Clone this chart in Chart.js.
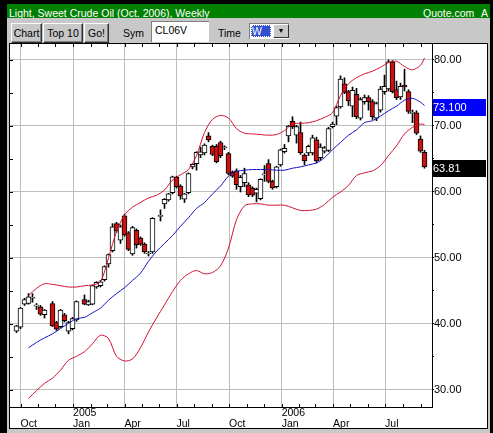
<!DOCTYPE html>
<html>
<head>
<meta charset="utf-8">
<script src="https://cdn.jsdelivr.net/npm/chart.js@4.4.0/dist/chart.umd.min.js"></script>
<style>
  body { margin:0; width:493px; height:433px; background:#000; position:relative; overflow:hidden;
         font-family:"Liberation Sans", Arial, sans-serif; font-size:10.5px; }
  #titlebar { position:absolute; left:7px; top:4px; width:483px; height:14px; background:#008000; color:#fff; }
  #titlebar span { position:absolute; top:3px; line-height:12px; white-space:nowrap; }
  #panel { position:absolute; left:7px; top:18px; width:483px; height:415px; background:#c8c8c8; }
  .btn { position:absolute; top:5px; height:20px; box-sizing:border-box; background:#c8c8c8;
         border-top:1px solid #fff; border-left:1px solid #fff; border-right:1px solid #303030; border-bottom:1px solid #303030;
         box-shadow:inset -1px -1px #808080; text-align:center; line-height:19px; color:#000; }
  .lbl { position:absolute; top:8px; line-height:14px; color:#000; }
  #sym { position:absolute; left:144px; top:3px; width:58px; height:21px; box-sizing:border-box; background:#fff;
         border-top:1px solid #808080; border-left:1px solid #808080; padding:2px 0 0 3px; line-height:12px; }
  #time { position:absolute; left:242px; top:5px; width:40px; height:16px; box-sizing:border-box; background:#fff;
          border-top:1px solid #808080; border-left:1px solid #808080; }
  #time .sel { position:absolute; left:1px; top:1px; width:19px; height:12px; background:#3050d0; color:#fff;
               line-height:12px; padding-left:1px; outline:1px dotted #fff; outline-offset:-1px; }
  #time .arr { position:absolute; right:0; top:0; width:16px; height:14px; box-sizing:border-box; background:#c8c8c8;
               border-top:1px solid #fff; border-left:1px solid #fff; border-right:1px solid #303030; border-bottom:1px solid #303030;
               font-size:7px; line-height:12px; text-align:center; }
  #frame { position:absolute; left:9px; top:43px; width:479px; height:386px; box-sizing:border-box;
           border:1px solid #000; background:#fff; }
  #frame canvas { position:absolute; left:0; top:0; }
</style>
</head>
<body>
<div id="titlebar">
  <span style="left:2px">Light, Sweet Crude Oil (Oct. 2006), Weekly</span>
  <span style="left:416px">Quote.com</span>
  <span style="left:474px">A</span>
</div>
<div id="panel">
  <div class="btn" style="left:4px;width:31px">Chart</div>
  <div class="btn" style="left:36px;width:40px">Top 10</div>
  <div class="btn" style="left:77px;width:25px">Go!</div>
  <div class="lbl" style="left:116px">Sym</div>
  <div id="sym">CL06V</div>
  <div class="lbl" style="left:211px">Time</div>
  <div id="time"><div class="sel">W</div><div class="arr">&#9660;</div></div>
</div>
<div id="frame"><canvas id="chart" width="477" height="384"></canvas></div>

<script>
// first weekly bar (week ending Friday 2004-09-24), one bar per week
var firstWeek = Date.UTC(2004, 8, 24);

var opens = [38.9, 39.5, 43.0, 43.1, 43.9, 42.7, 42.6, 41.4, null, 43.1,
  40.2, 39.6, 41.4, 38.9, 39.3, 40.6, null, 43.7, 42.9, 43.0,
  45.6, 45.8, 46.7, 49.1, 51.1, 55.2, 52.7, 56.4, 53.8, 50.6,
  54.2, 53.0, 52.1, 50.6, 50.9, null, 56.3, 58.2, 58.8, 59.9,
  62.2, 60.9, 58.9, 59.9, 63.8, 64.3, 65.6, 65.9, 68.5, 66.9,
  66.9, 67.5, 66.7, 65.8, 63.0, 63.2, 60.8, 61.4, 61.1, 60.6,
  59.8, 59.0, 62.6, 64.3, 61.6, 60.8, 64.1, 66.1, 68.5, 70.7,
  68.6, 69.0, 65.6, 65.9, 65.9, 67.9, 65.2, 66.2, 66.3, 69.9,
  71.5, 72.9, 76.4, 75.2, 73.0, 74.8, 71.2, 73.7, 74.3, 73.7,
  71.2, 72.4, 75.2, 75.6, 79.7, 75.5, 74.4, 76.2, 75.2, 71.9,
  72.0, 68.0, 66.0];
var highs = [39.8, 42.5, 43.9, 44.6, 44.6, 43.1, 42.8, 42.2, null, 43.4,
  40.4, 42.2, 41.6, 40.4, 41.0, 43.5, null, 44.4, 43.6, 45.9,
  46.4, 46.6, 48.8, 50.6, 55.2, 55.4, 55.0, 56.6, 54.0, 54.8,
  54.4, 53.2, 52.3, 51.0, 56.1, null, 57.3, 59.0, 59.8, 62.4,
  62.4, 61.1, 59.8, 62.9, 64.3, 66.1, 66.8, 67.3, 69.0, 67.1,
  67.2, 67.7, 67.0, 66.0, 63.2, 63.5, 62.5, 63.6, 61.4, 60.8,
  60.6, 62.0, 64.0, 64.9, 61.8, 63.9, 66.5, 67.2, 70.1, 71.4,
  70.1, 70.6, 65.8, 67.1, 68.6, 68.3, 67.3, 66.9, 69.8, 70.6,
  73.0, 77.6, 77.3, 75.4, 75.9, 75.7, 74.3, 74.7, 74.6, 74.0,
  73.6, 76.0, 77.7, 80.0, 79.9, 76.8, 76.5, 78.6, 75.5, 72.4,
  72.3, 68.5, 66.3];
var lows = [38.7, 39.3, 42.8, 43.0, 43.3, 42.2, 41.3, 40.9, null, 39.6,
  39.0, 39.4, 40.3, 38.5, 39.1, 40.4, null, 42.9, 42.8, 42.9,
  45.4, 45.6, 46.5, 48.6, 50.9, 53.9, 52.2, 53.3, 51.1, 50.4,
  51.5, 51.9, 50.7, 50.3, 50.7, null, 55.6, 57.5, 58.6, 59.7,
  60.6, 58.9, 58.4, 59.7, 63.5, 63.3, 65.2, 65.6, 67.6, 65.5,
  64.4, 65.2, 66.4, 62.6, 62.2, 60.4, 60.0, 60.8, 59.3, 59.3,
  58.5, 58.8, 61.6, 61.4, 60.4, 60.6, 63.9, 65.9, 67.6, 69.6,
  67.4, 65.7, 64.1, 65.5, 65.6, 64.4, 64.8, 65.9, 66.1, 69.7,
  70.2, 72.7, 74.9, 73.1, 71.4, 71.1, 70.9, 73.3, 72.4, 71.0,
  70.8, 72.1, 74.8, 75.3, 75.0, 74.0, 74.0, 75.3, 71.9, 70.5,
  68.7, 66.0, 63.6];
var closes = [39.7, 42.4, 43.7, 44.1, 43.9, 42.7, 41.5, 42.1, null, 39.7,
  39.2, 42.1, 40.5, 40.2, 40.8, 43.4, null, 43.0, 43.4, 45.8,
  46.3, 46.4, 48.7, 50.5, 54.7, 54.1, 54.7, 53.5, 51.3, 54.6,
  52.0, 52.1, 50.9, 50.6, 56.0, null, 56.3, 58.9, 59.7, 62.3,
  60.8, 59.4, 59.7, 62.8, 64.2, 66.0, 66.1, 67.1, 67.9, 65.7,
  64.6, 65.5, 66.7, 62.8, 62.4, 61.1, 62.2, 62.8, 59.6, 59.5,
  60.4, 61.9, 62.6, 61.6, 60.6, 63.8, 66.4, 66.6, 70.0, 69.9,
  69.9, 65.9, 64.7, 66.9, 68.2, 64.7, 66.8, 66.7, 69.6, 70.3,
  72.8, 77.1, 75.1, 73.8, 75.4, 71.4, 74.0, 74.3, 73.7, 71.4,
  73.4, 75.6, 76.0, 79.7, 75.2, 74.3, 76.0, 75.9, 72.2, 71.9,
  68.9, 66.2, 63.81];

// Bollinger band (20 week), read every second week
var bandWeeks = [3, 5, 7, 9, 11, 13, 15, 17, 19, 21, 23, 25, 27, 29, 31, 33, 35, 37, 39, 41,
  43, 45, 47, 49, 51, 53, 55, 57, 59, 61, 63, 65, 67, 69, 71, 73, 75, 77, 79, 81,
  83, 85, 87, 89, 91, 93, 95, 97, 99, 101, 102];
var upperBand = [44.3, 45.4, 46.1, 46.0, 45.8, 45.6, 45.6, 45.8, 45.9, 46.4,
  50.0, 54.0, 56.5, 57.7, 58.4, 59.1, 59.5, 60.3, 61.8, 62.6,
  63.4, 65.5, 69.0, 71.0, 71.6, 71.2, 69.6, 68.9, 68.8, 68.7,
  68.6, 68.7, 69.3, 70.3, 70.4, 70.5, 70.8, 71.3, 72.0, 74.6,
  76.4, 77.3, 77.9, 78.3, 78.9, 79.6, 79.8, 79.0, 78.5, 79.2, 80.3];
var middleBand = [36.4, 37.2, 37.9, 38.5, 39.3, 40.1, 40.8, 41.0, 41.7, 42.4,
  43.6, 44.6, 45.5, 46.6, 47.7, 49.5, 51.0, 52.2, 53.4, 54.8,
  56.1, 57.5, 58.4, 59.7, 60.9, 62.4, 63.1, 63.3, 63.4, 63.4,
  63.4, 63.3, 63.3, 63.6, 63.8, 64.1, 64.4, 65.2, 66.4, 67.5,
  68.6, 69.4, 70.5, 70.8, 71.5, 72.3, 73.0, 73.9, 74.2, 73.6, 73.1];
var lowerBand = [28.7, 29.9, 31.0, 31.8, 33.0, 34.5, 35.1, 35.8, 37.0, 38.3,
  37.8, 35.1, 34.4, 34.7, 36.4, 38.8, 40.9, 42.9, 44.9, 46.6,
  47.6, 48.1, 47.6, 47.8, 48.8, 51.5, 55.8, 57.9, 58.2, 58.2,
  58.0, 58.0, 58.0, 57.6, 57.2, 57.2, 57.4, 58.1, 59.2, 60.0,
  61.0, 62.5, 62.9, 63.2, 64.0, 65.5, 67.0, 68.8, 69.8, 70.3, 70.2];

var lastMiddle = 73.100;
var lastClose = 63.81;

var priceTicks = [30, 35, 40, 45, 50, 55, 60, 65, 70, 75, 80];
var months = [[2004, 9], [2004, 10], [2004, 11], [2005, 0], [2005, 1], [2005, 2], [2005, 3], [2005, 4],
  [2005, 5], [2005, 6], [2005, 7], [2005, 8], [2005, 9], [2005, 10], [2005, 11], [2006, 0], [2006, 1],
  [2006, 2], [2006, 3], [2006, 4], [2006, 5], [2006, 6], [2006, 7], [2006, 8]];
var monthNames = {0: 'Jan', 3: 'Apr', 6: 'Jul', 9: 'Oct'};

var weekMs = 7 * 24 * 3600 * 1000;
var monthPos = months.map(function(m) { return (Date.UTC(m[0], m[1], 1) - firstWeek) / weekMs; });

function monthLabel(k) {
  var m = months[k];
  if (!(m[1] in monthNames)) return '';
  return [m[1] === 0 ? String(m[0]) : '', monthNames[m[1]]];
}
function isQuarter(k) { return months[k][1] % 3 === 0; }

var wickData = [], bodyData = [];
opens.forEach(function(o, i) {
  if (o === null) return;
  wickData.push({x: i, y: [lows[i], highs[i]]});
  bodyData.push({x: i, y: [o, closes[i]]});
});
function band(values) {
  return bandWeeks.map(function(w, k) { return {x: w, y: values[k]}; });
}

var edgeTicks = {
  id: 'edgeTicks',
  afterDatasetsDraw: function(chart) {
    var ctx = chart.ctx, a = chart.chartArea, x = chart.scales.x, y = chart.scales.y;
    ctx.save();
    ctx.strokeStyle = '#000';
    ctx.lineWidth = 1;
    ctx.beginPath();
    monthPos.forEach(function(p) {
      var px = Math.round(x.getPixelForValue(p)) + 0.5;
      ctx.moveTo(px, a.top); ctx.lineTo(px, a.top + 3);
      ctx.moveTo(px, a.bottom); ctx.lineTo(px, a.bottom - 3);
    });
    priceTicks.forEach(function(v) {
      var py = Math.round(y.getPixelForValue(v)) + 0.5;
      ctx.moveTo(a.left, py); ctx.lineTo(a.left + 3, py);
    });
    ctx.stroke();
    ctx.restore();
  },
  afterDraw: function(chart) {
    var ctx = chart.ctx, a = chart.chartArea, y = chart.scales.y;
    function tag(val, text, fill) {
      var py = y.getPixelForValue(val);
      ctx.fillStyle = fill;
      ctx.fillRect(a.right + 1, Math.round(py - 6.5), 53, 17);
      ctx.fillStyle = '#fff';
      ctx.font = '11px "Liberation Sans", Arial, sans-serif';
      ctx.textBaseline = 'middle';
      ctx.textAlign = 'left';
      ctx.fillText(text, a.right + 1, py + 2);
    }
    ctx.save();
    tag(lastMiddle, lastMiddle.toFixed(3), '#0000ff');
    tag(lastClose, lastClose.toFixed(2), '#000000');
    ctx.restore();
  }
};

new Chart(document.getElementById('chart'), {
  type: 'bar',
  data: {
    datasets: [
      {
        type: 'line', data: band(upperBand), borderColor: '#d01030', borderWidth: 1,
        pointRadius: 0, tension: 0.3, order: 0
      },
      {
        type: 'line', data: band(middleBand), borderColor: '#1010c0', borderWidth: 1,
        pointRadius: 0, tension: 0.3, order: 0
      },
      {
        type: 'line', data: band(lowerBand), borderColor: '#d01030', borderWidth: 1,
        pointRadius: 0, tension: 0.3, order: 0
      },
      {
        data: bodyData, grouped: false, barThickness: 5, minBarLength: 1,
        borderWidth: 1, borderColor: '#000', borderSkipped: false,
        backgroundColor: function(c) {
          var r = c.raw;
          return r && r.y[1] >= r.y[0] ? '#ffffff' : '#cc1111';
        },
        order: 1
      },
      {
        data: wickData, grouped: false, barThickness: 1, backgroundColor: '#000', borderWidth: 0, order: 2
      }
    ]
  },
  options: {
    responsive: false,
    animation: false,
    devicePixelRatio: 1,
    events: [],
    layout: { padding: 0 },
    plugins: { legend: { display: false }, tooltip: { enabled: false } },
    scales: {
      x: {
        type: 'linear', min: -1.625, max: 103.875, offset: false,
        afterBuildTicks: function(s) { s.ticks = monthPos.map(function(p) { return {value: p}; }); },
        afterFit: function(s) { s.height = 21; s.paddingLeft = 0; s.paddingRight = 0; },
        grid: {
          offset: false, drawTicks: false,
          color: function(c) { return isQuarter(c.index) ? '#bdbdbd' : 'rgba(0,0,0,0)'; }
        },
        border: { color: '#000', width: 1 },
        ticks: {
          autoSkip: false, maxRotation: 0, minRotation: 0, align: 'start', padding: 1, color: '#000',
          font: { family: '"Liberation Sans", Arial, sans-serif', size: 10.5, lineHeight: 1 },
          callback: function(v, k) { return monthLabel(k); }
        }
      },
      y: {
        position: 'right', min: 27.42, max: 82.42,
        afterBuildTicks: function(s) { s.ticks = priceTicks.map(function(v) { return {value: v}; }); },
        afterFit: function(s) { s.width = 55; s.paddingTop = 0; s.paddingBottom = 0; },
        grid: {
          tickLength: 2, tickColor: '#000',
          color: function(c) { return c.tick && c.tick.value % 10 === 0 ? '#bdbdbd' : 'rgba(0,0,0,0)'; }
        },
        border: { color: '#000', width: 1 },
        ticks: {
          padding: 0, color: '#000',
          font: { family: '"Liberation Sans", Arial, sans-serif', size: 11 },
          callback: function(v) { return v % 10 === 0 ? v.toFixed(2) : ''; }
        }
      }
    }
  },
  plugins: [edgeTicks]
});
</script>
</body>
</html>
